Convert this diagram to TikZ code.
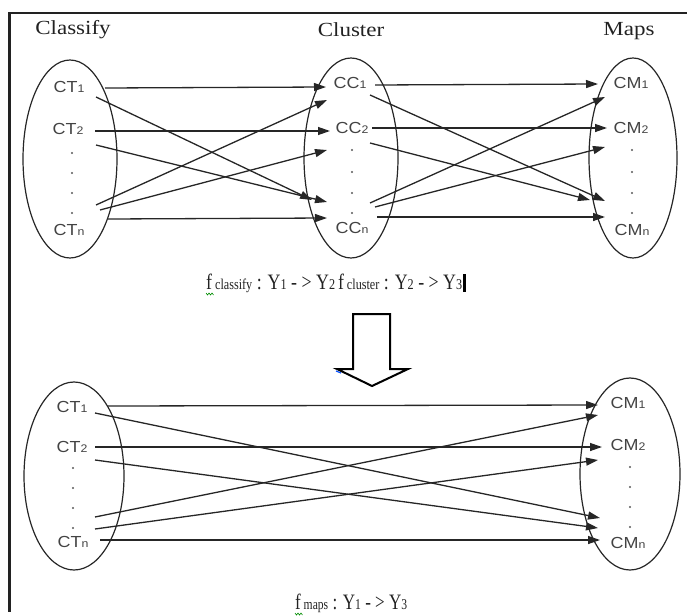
\documentclass[tikz,border=0pt]{standalone}
\usepackage{fontspec}
\setmainfont{Liberation Serif}[FakeStretch=1.15]
\newfontfamily\lblfont{Liberation Sans}[FakeStretch=1.12]
\newfontfamily\eqfont{Liberation Serif}
\usetikzlibrary{arrows.meta,shapes.geometric}

\definecolor{ink}{HTML}{222222}
\definecolor{lineink}{HTML}{262626}

\tikzset{
  set/.style={ellipse, draw=lineink, line width=1.2pt, inner sep=0pt},
  head/.style={font=\fontsize{20}{20}\selectfont, text=ink, inner sep=0pt},
  lbl/.style={font=\lblfont\fontsize{16}{16}\selectfont, text=ink!85, inner sep=0pt},
  dotn/.style={circle, fill=ink!75, inner sep=0pt, minimum size=2.4pt},
  map/.style={draw=lineink, line width=1.3pt, -{Triangle[length=12pt,width=8pt]}},
  formula/.style={font=\eqfont\fontsize{22}{22}\selectfont, text=ink, inner sep=0pt},
}
\newcommand{\sm}[1]{{\fontsize{11}{11}\selectfont #1}}
\newcommand{\fsub}[1]{{\fontsize{15}{15}\selectfont #1}}
\newcommand{\fs}[1]{{\fontsize{15}{15}\selectfont #1}}

\begin{document}
\begin{tikzpicture}[x=1pt,y=-1pt]
\useasboundingbox (0,0) rectangle (687,615);

% frame
\draw[ink, line width=2.6pt] (8,13) -- (687,13);
\draw[ink, line width=2.4pt] (9.5,13) -- (9.5,612);

% column headings
\node[head] (hcl) at (73,30) {Classify};
\node[head] (hcu) at (351,30) {Cluster};
\node[head] (hma) at (629,31) {Maps};

% ---------- upper diagram ----------
\node[set, minimum width=94pt, minimum height=198pt] (eT) at (70,159) {};
\node[set, minimum width=94pt, minimum height=200pt] (eC) at (351,158) {};
\node[set, minimum width=88pt, minimum height=200pt] (eM) at (633,158) {};

\node[lbl] (ct1) at (69,87) {CT\sm{1}};
\node[lbl] (ct2) at (68,129) {CT\sm{2}};
\node[dotn] (td1) at (72,153) {};
\node[dotn] (td2) at (72,173) {};
\node[dotn] (td3) at (72,193) {};
\node[dotn] (td4) at (72,213) {};
\node[lbl] (ctn) at (69,230) {CT\sm{n}};

\node[lbl] (cc1) at (350,83) {CC\sm{1}};
\node[lbl] (cc2) at (352,128) {CC\sm{2}};
\node[dotn] (cd1) at (352,150) {};
\node[dotn] (cd2) at (352,172) {};
\node[dotn] (cd3) at (352,193) {};
\node[dotn] (cd4) at (352,213) {};
\node[lbl] (ccn) at (352,228) {CC\sm{n}};

\node[lbl] (cm1) at (631,83) {CM\sm{1}};
\node[lbl] (cm2) at (631,128) {CM\sm{2}};
\node[dotn] (md1) at (632,150) {};
\node[dotn] (md2) at (632,172) {};
\node[dotn] (md3) at (632,193) {};
\node[dotn] (md4) at (632,213) {};
\node[lbl] (cmn) at (632,230) {CM\sm{n}};

% connector ends, classify -> cluster
\coordinate (a1) at (105,88);  \coordinate (b1) at (326,87);
\coordinate (a2) at (96,97);   \coordinate (b2) at (312,200);
\coordinate (a3) at (95,131);  \coordinate (b3) at (330,131);
\coordinate (a4) at (96,145);  \coordinate (b4) at (327,202);
\coordinate (a5) at (96,205);  \coordinate (b5) at (327,100);
\coordinate (a6) at (100,210); \coordinate (b6) at (327,150);
\coordinate (a7) at (108,219); \coordinate (b7) at (327,218);
\foreach \i in {1,...,7} \draw[map] (a\i) -- (b\i);

% connector ends, cluster -> maps
\coordinate (c1) at (375,85);  \coordinate (d1) at (598,84);
\coordinate (c2) at (370,95);  \coordinate (d2) at (605,201);
\coordinate (c3) at (372,128); \coordinate (d3) at (607,128);
\coordinate (c4) at (370,143); \coordinate (d4) at (590,200);
\coordinate (c5) at (370,203); \coordinate (d5) at (605,97);
\coordinate (c6) at (375,207); \coordinate (d6) at (605,147);
\coordinate (c7) at (377,217); \coordinate (d7) at (605,217);
\foreach \i in {1,...,7} \draw[map] (c\i) -- (d\i);

% composition formula, squeezed sideways to its set width
\node[formula, anchor=base west] (f1) at (206,289)
  {\resizebox{256pt}{\height}{f\,\fs{classify} : Y\fsub{1} - > Y\fsub{2}\,f\,\fs{cluster} : Y\fsub{2} - > Y\fsub{3}}};
\draw[black, line width=2.4pt] ([xshift=2pt]f1.east |- 0,274) -- ([xshift=2pt]f1.east |- 0,292);
\draw[green!55!black, line width=0.6pt] (206,293) -- (207.5,295) -- (209,293) -- (210.5,295) -- (212,293) -- (213.5,295);

% block arrow
\draw[black, line width=2pt, line join=miter, fill=white]
  (353,369) -- (353,314) -- (390,314) -- (390,369) -- (408,369) -- (372,386) -- (337,369) -- cycle;
\draw[blue!70!cyan, line width=1.2pt] (336,371) -- (341,373);

% ---------- lower diagram ----------
\node[set, minimum width=100pt, minimum height=188pt] (fT) at (74,476) {};
\node[set, minimum width=100pt, minimum height=192pt] (fM) at (630,474) {};

\node[lbl] (lt1) at (72,407) {CT\sm{1}};
\node[lbl] (lt2) at (72,447) {CT\sm{2}};
\node[dotn] (le1) at (73,468) {};
\node[dotn] (le2) at (73,488) {};
\node[dotn] (le3) at (73,508) {};
\node[dotn] (le4) at (73,528) {};
\node[lbl] (ltn) at (73,542) {CT\sm{n}};

\node[lbl] (lm1) at (628,403) {CM\sm{1}};
\node[lbl] (lm2) at (628,445) {CM\sm{2}};
\node[dotn] (lf1) at (630,467) {};
\node[dotn] (lf2) at (630,487) {};
\node[dotn] (lf3) at (630,507) {};
\node[dotn] (lf4) at (630,527) {};
\node[lbl] (lmn) at (628,543) {CM\sm{n}};

\coordinate (p1) at (108,406); \coordinate (q1) at (598,405);
\coordinate (p2) at (95,413);  \coordinate (q2) at (600,518);
\coordinate (p3) at (95,447);  \coordinate (q3) at (602,447);
\coordinate (p4) at (95,460);  \coordinate (q4) at (598,528);
\coordinate (p5) at (95,517);  \coordinate (q5) at (598,415);
\coordinate (p6) at (95,529);  \coordinate (q6) at (598,460);
\coordinate (p7) at (100,540); \coordinate (q7) at (600,540);
\foreach \i in {1,...,7} \draw[map] (p\i) -- (q\i);

\node[formula, anchor=base west] (f2) at (295,609)
  {\resizebox{112pt}{\height}{f\,\fs{maps} : Y\fsub{1} - > Y\fsub{3}}};
\draw[green!55!black, line width=0.6pt] (295,613) -- (296.5,615) -- (298,613) -- (299.5,615) -- (301,613) -- (302.5,615);
\end{tikzpicture}
\end{document}
